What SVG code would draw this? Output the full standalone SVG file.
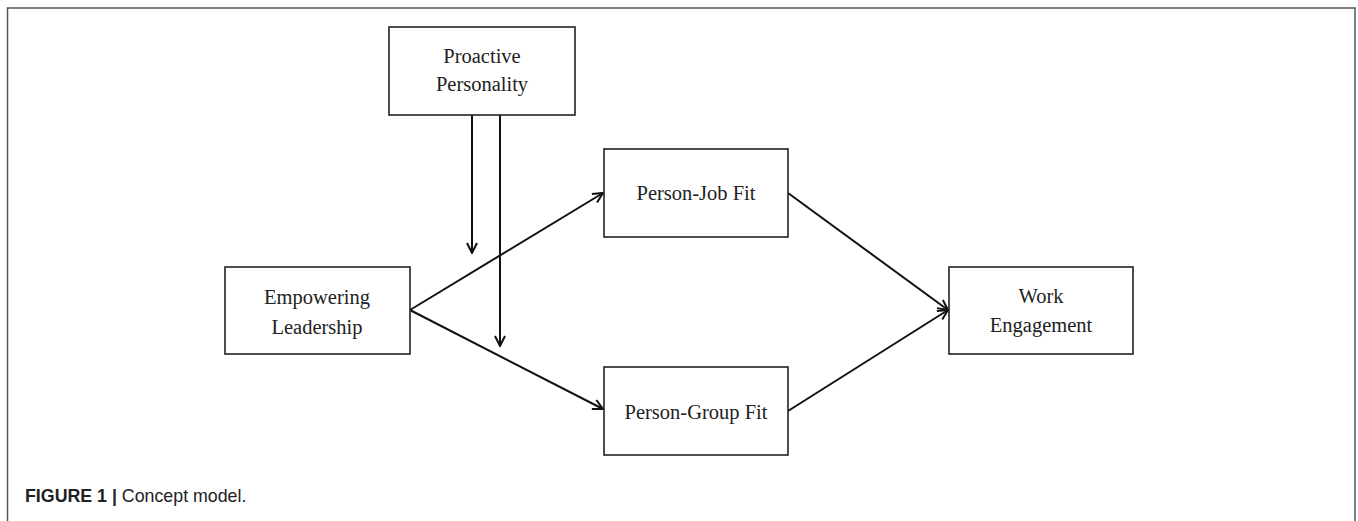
<svg xmlns="http://www.w3.org/2000/svg" width="1358" height="521" viewBox="0 0 1358 521">
<style>
.box{fill:#fff;stroke:#222;stroke-width:1.6}
.lbl{font-family:"Liberation Serif","Times New Roman",serif;font-size:20.5px;fill:#222;text-anchor:middle}
.conn{stroke:#111;stroke-width:2;fill:none;marker-end:url(#arr)}
.cap{font-family:"Liberation Sans",Arial,sans-serif;font-size:17.8px;fill:#222}
</style>
<defs>
<marker id="arr" viewBox="0 0 12 12" refX="11" refY="6" markerWidth="12" markerHeight="12" markerUnits="userSpaceOnUse" orient="auto">
<path d="M1,1 L11,6 L1,11" fill="none" stroke="#111" stroke-width="2"/>
</marker>
</defs>
<rect x="7.5" y="8" width="1347.5" height="530" fill="none" stroke="#555" stroke-width="1.5"/>
<g id="connectors">
<line class="conn" x1="472" y1="115" x2="472" y2="253"/>
<line class="conn" x1="500" y1="115" x2="500" y2="346"/>
<line class="conn" x1="410" y1="310" x2="603" y2="193"/>
<line class="conn" x1="410" y1="310" x2="603" y2="409"/>
<line class="conn" x1="788" y1="193" x2="948" y2="310"/>
<line class="conn" x1="788" y1="411" x2="948" y2="310"/>
</g>
<g id="proactive">
<rect class="box" x="389" y="27" width="186" height="88"/>
<text class="lbl" x="482" y="63">Proactive</text>
<text class="lbl" x="482" y="91">Personality</text>
</g>
<g id="empowering">
<rect class="box" x="225" y="267" width="185" height="87"/>
<text class="lbl" x="317" y="304">Empowering</text>
<text class="lbl" x="317" y="334">Leadership</text>
</g>
<g id="pjfit">
<rect class="box" x="604" y="149" width="184" height="88"/>
<text class="lbl" x="696" y="200">Person-Job Fit</text>
</g>
<g id="pgfit">
<rect class="box" x="604" y="367" width="184" height="88"/>
<text class="lbl" x="696" y="419">Person-Group Fit</text>
</g>
<g id="work">
<rect class="box" x="949" y="267" width="184" height="87"/>
<text class="lbl" x="1041" y="303">Work</text>
<text class="lbl" x="1041" y="332">Engagement</text>
</g>
<text class="cap" x="25" y="502"><tspan font-weight="bold">FIGURE 1 |</tspan> Concept model.</text>
</svg>
